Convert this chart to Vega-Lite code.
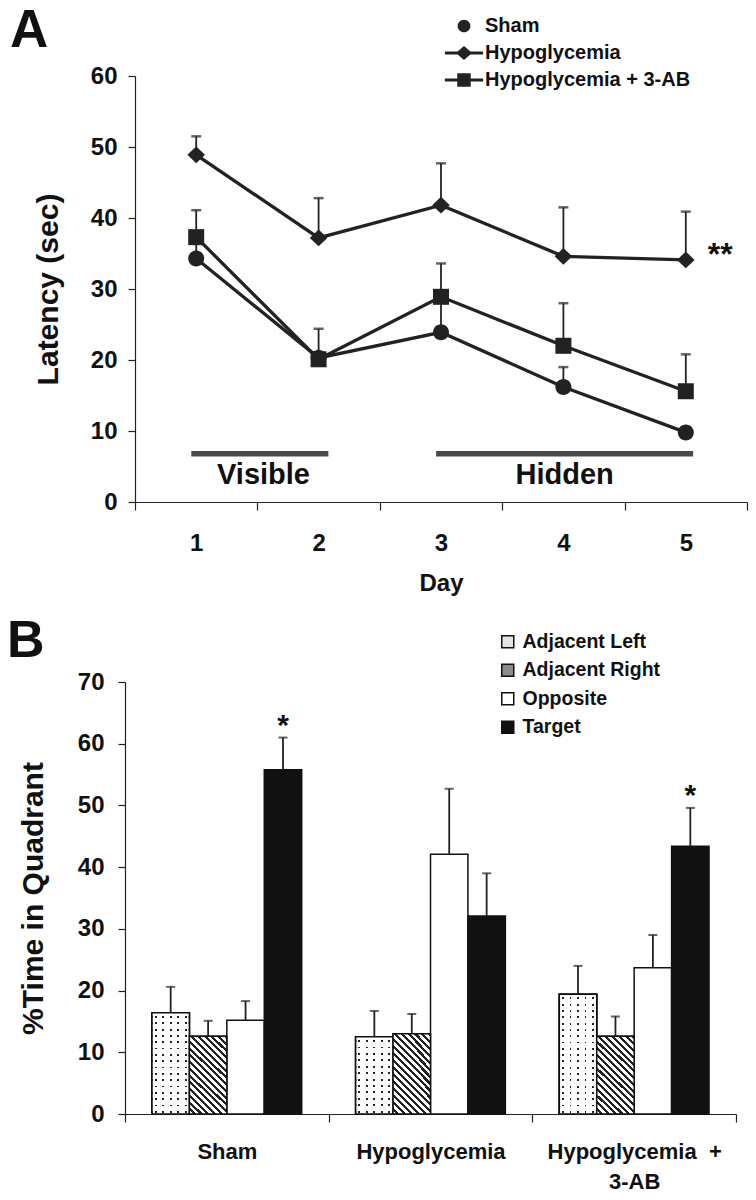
{
  "$schema": "https://vega.github.io/schema/vega-lite/v6.json",
  "autosize": {"type": "pad"},
  "padding": {"left": 7, "top": 5, "right": 0, "bottom": 0},
  "background": "white",
  "config": {
    "font": "Liberation Sans",
    "view": {"stroke": null},
    "axis": {
      "grid": false,
      "labelFont": "Liberation Sans",
      "labelFontWeight": "bold",
      "labelFontSize": 24,
      "labelColor": "#111",
      "titleFont": "Liberation Sans",
      "titleFontWeight": "bold",
      "titleColor": "#111",
      "domainColor": "#222",
      "tickColor": "#222",
      "domainWidth": 1.2,
      "tickWidth": 1.2
    },
    "title": {"font": "Liberation Sans", "fontWeight": "bold", "color": "#111"}
  },
  "datasets": {
    "latency": [
      {"day": 1, "group": "Sham", "latency": 34.3, "upper": 36.5},
      {"day": 2, "group": "Sham", "latency": 20.3, "upper": 21.0},
      {"day": 3, "group": "Sham", "latency": 23.9, "upper": 28.5},
      {"day": 4, "group": "Sham", "latency": 16.2, "upper": 19.0},
      {"day": 5, "group": "Sham", "latency": 9.8, "upper": 10.5},
      {"day": 1, "group": "Hypoglycemia", "latency": 48.9, "upper": 51.5},
      {"day": 2, "group": "Hypoglycemia", "latency": 37.2, "upper": 42.8},
      {"day": 3, "group": "Hypoglycemia", "latency": 41.8, "upper": 47.7},
      {"day": 4, "group": "Hypoglycemia", "latency": 34.6, "upper": 41.5},
      {"day": 5, "group": "Hypoglycemia", "latency": 34.1, "upper": 40.9, "note": "**"},
      {"day": 1, "group": "Hypoglycemia + 3-AB", "latency": 37.3, "upper": 41.1},
      {"day": 2, "group": "Hypoglycemia + 3-AB", "latency": 20.1, "upper": 24.4},
      {"day": 3, "group": "Hypoglycemia + 3-AB", "latency": 28.9, "upper": 33.6},
      {"day": 4, "group": "Hypoglycemia + 3-AB", "latency": 22.0, "upper": 28.0},
      {"day": 5, "group": "Hypoglycemia + 3-AB", "latency": 15.6, "upper": 20.8}
    ],
    "phases": [
      {"phase": "Visible", "start": 0.96, "end": 2.08, "mid": 1.55},
      {"phase": "Hidden", "start": 2.96, "end": 5.06, "mid": 4.01}
    ],
    "quadrant": [
      {"group": "Sham", "quadrant": "Adjacent Left", "pct": 16.4, "upper": 20.6},
      {"group": "Sham", "quadrant": "Adjacent Right", "pct": 12.6, "upper": 15.1},
      {"group": "Sham", "quadrant": "Opposite", "pct": 15.2, "upper": 18.3},
      {"group": "Sham", "quadrant": "Target", "pct": 55.8, "upper": 61.0, "sig": "*"},
      {"group": "Hypoglycemia", "quadrant": "Adjacent Left", "pct": 12.5, "upper": 16.7},
      {"group": "Hypoglycemia", "quadrant": "Adjacent Right", "pct": 13.0, "upper": 16.2},
      {"group": "Hypoglycemia", "quadrant": "Opposite", "pct": 42.1, "upper": 52.7},
      {"group": "Hypoglycemia", "quadrant": "Target", "pct": 32.1, "upper": 39.0},
      {"group": "Hypoglycemia + 3-AB", "quadrant": "Adjacent Left", "pct": 19.4, "upper": 24.0},
      {"group": "Hypoglycemia + 3-AB", "quadrant": "Adjacent Right", "pct": 12.6, "upper": 15.8},
      {"group": "Hypoglycemia + 3-AB", "quadrant": "Opposite", "pct": 23.7, "upper": 29.0},
      {"group": "Hypoglycemia + 3-AB", "quadrant": "Target", "pct": 43.4, "upper": 49.6, "sig": "*"}
    ]
  },
  "spacing": 180,
  "bounds": "flush",
  "resolve": {"legend": {"fill": "independent", "shape": "independent"}, "scale": {"fill": "independent", "shape": "independent"}},
  "vconcat": [
    {
      "width": 622,
      "height": 426,
      "title": {"text": "A", "anchor": "start", "frame": "group", "dx": -115, "dy": 84, "fontSize": 53, "baseline": "alphabetic", "offset": 0},
      "data": {"name": "latency"},
      "resolve": {"scale": {"shape": "independent"}, "legend": {"shape": "independent"}},
      "layer": [
        {
          "data": {"name": "phases"},
          "mark": {"type": "rule", "stroke": "#4a4a4a", "strokeWidth": 5.5},
          "encoding": {
            "x": {"field": "start", "type": "quantitative", "scale": {"domain": [0.5, 5.5], "range": [10, 622], "nice": false, "zero": false},
              "axis": {"values": [0.5, 1.5, 2.5, 3.5, 4.5, 5.5], "labelExpr": "datum.value < 5 ? format(datum.value + 0.5, 'd') : ''", "labelOffset": 61.2, "labelFlush": false, "labelOverlap": false, "tickSize": 8, "labelPadding": 21, "title": "Day", "titleFontSize": 24, "titlePadding": 16}},
            "x2": {"field": "end"},
            "y": {"datum": 6.8, "type": "quantitative", "scale": {"domain": [0, 60], "nice": false},
              "axis": {"values": [0, 10, 20, 30, 40, 50, 60], "title": "Latency (sec)", "titleFontSize": 30, "titlePadding": 27, "tickSize": 7, "labelPadding": 11, "offset": -10}}
          }
        },
        {
          "data": {"name": "phases"},
          "mark": {"type": "text", "fontSize": 29, "fontWeight": "bold", "baseline": "alphabetic", "color": "#111"},
          "encoding": {
            "x": {"field": "mid", "type": "quantitative"},
            "y": {"datum": 2.55, "type": "quantitative"},
            "text": {"field": "phase"}
          }
        },
        {
          "mark": {"type": "line", "stroke": "#222", "strokeWidth": 3.3},
          "encoding": {
            "x": {"field": "day", "type": "quantitative"},
            "y": {"field": "latency", "type": "quantitative"},
            "detail": {"field": "group"}
          }
        },
        {
          "mark": {"type": "rule", "stroke": "#222", "strokeWidth": 1.8},
          "encoding": {
            "x": {"field": "day", "type": "quantitative"},
            "y": {"field": "latency", "type": "quantitative"},
            "y2": {"field": "upper"}
          }
        },
        {
          "mark": {"type": "tick", "orient": "horizontal", "color": "#222", "size": 10, "thickness": 2.5},
          "encoding": {
            "x": {"field": "day", "type": "quantitative"},
            "y": {"field": "upper", "type": "quantitative"}
          }
        },
        {
          "mark": {"type": "point", "filled": true, "fill": "#222", "opacity": 1, "size": 256, "strokeWidth": 0},
          "encoding": {
            "x": {"field": "day", "type": "quantitative"},
            "y": {"field": "latency", "type": "quantitative"},
            "shape": {"field": "group", "type": "nominal",
              "scale": {"domain": ["Sham", "Hypoglycemia", "Hypoglycemia + 3-AB"],
                "range": ["M-1,0A1,1,0,1,0,1,0A1,1,0,1,0,-1,0Z", "M0,-1.05L1.1,0L0,1.05L-1.1,0Z", "M-1,-1H1V1H-1Z"]},
              "legend": null}
          }
        },
        {
          "mark": {"type": "point", "filled": true, "color": "#222", "opacity": 0, "size": 200},
          "encoding": {
            "x": {"field": "day", "type": "quantitative"},
            "y": {"field": "latency", "type": "quantitative"},
            "shape": {"field": "group", "type": "nominal",
              "scale": {"domain": ["Sham", "Hypoglycemia", "Hypoglycemia + 3-AB"],
                "range": ["M-0.9,0A0.9,0.9,0,1,0,0.9,0A0.9,0.9,0,1,0,-0.9,0Z", "M0,-1L1.15,0L0,1L-1.15,0Z M-2.7,-0.21H2.7V0.21H-2.7Z", "M-0.95,-0.95H0.95V0.95H-0.95Z M-2.7,-0.21H2.7V0.21H-2.7Z"]},
              "legend": {"title": null, "orient": "none", "legendX": 329, "legendY": -60, "padding": 0, "symbolSize": 200, "symbolFillColor": "#222", "symbolStrokeColor": "#222", "symbolStrokeWidth": 0, "symbolOpacity": 1, "labelFontSize": 20, "labelFont": "Liberation Sans", "labelFontWeight": "bold", "labelColor": "#111", "labelOffset": 11, "labelLimit": 400, "rowPadding": 7}}
          }
        },
        {
          "transform": [{"filter": "datum.note"}],
          "mark": {"type": "text", "align": "left", "dx": 22, "dy": 5, "fontSize": 32, "fontWeight": "bold", "baseline": "alphabetic", "color": "#111"},
          "encoding": {
            "x": {"field": "day", "type": "quantitative"},
            "y": {"field": "latency", "type": "quantitative"},
            "text": {"field": "note"}
          }
        }
      ]
    },
    {
      "width": 611,
      "height": 432,
      "title": {"text": "B", "anchor": "start", "frame": "group", "dx": -118, "dy": 77, "fontSize": 52, "baseline": "alphabetic", "offset": 0},
      "data": {"name": "quadrant"},
      "layer": [
        {
          "mark": {"type": "bar", "stroke": "#111", "strokeWidth": 1.5},
          "encoding": {
            "x": {"field": "group", "type": "nominal", "scale": {"domain": ["Sham", "Hypoglycemia", "Hypoglycemia + 3-AB"], "paddingInner": 0, "paddingOuter": 0},
              "axis": {"tickBand": "extent", "labelAngle": 0, "labelExpr": "datum.value === 'Hypoglycemia + 3-AB' ? ['Hypoglycemia\u00a0\u00a0+', '3-AB'] : datum.value", "labelFontSize": 22, "labelLineHeight": 30, "labelBaseline": "top", "tickSize": 8, "labelPadding": 19, "title": null}},
            "xOffset": {"field": "quadrant", "type": "nominal", "scale": {"domain": ["Adjacent Left", "Adjacent Right", "Opposite", "Target"], "paddingInner": 0, "paddingOuter": 0.72}},
            "y": {"field": "pct", "type": "quantitative", "scale": {"domain": [0, 70], "nice": false},
              "axis": {"values": [0, 10, 20, 30, 40, 50, 60, 70], "title": "%Time in Quadrant", "titleFontSize": 30, "titlePadding": 29, "tickSize": 7, "labelPadding": 14}},
            "fill": {"field": "quadrant", "type": "nominal",
              "scale": {"domain": ["Adjacent Left", "Adjacent Right", "Opposite", "Target"], "range": ["#e4e4e4", "#8c8c8c", "#ffffff", "#111111"]},
              "legend": {"title": null, "orient": "none", "legendX": 373, "legendY": -50, "padding": 0, "symbolType": "square", "symbolSize": 144, "symbolStrokeColor": "#111", "symbolStrokeWidth": 1.5, "symbolOpacity": 1, "labelFontSize": 19.5, "labelFont": "Liberation Sans", "labelFontWeight": "bold", "labelColor": "#111", "labelOffset": 5, "labelLimit": 400, "rowPadding": 7.5}}
          }
        },
        {
          "transform": [{"filter": "datum.quadrant === 'Adjacent Left'"}],
          "mark": {"type": "bar", "stroke": "#111", "strokeWidth": 1.5,
            "fill": {"gradient": "linear", "x1": 0, "y1": 0, "x2": 1, "y2": 0, "stops": [
              {"offset": 0, "color": "#fff"}, {"offset": 0.075, "color": "#fff"}, {"offset": 0.075, "color": "#222"}, {"offset": 0.125, "color": "#222"},
              {"offset": 0.125, "color": "#fff"}, {"offset": 0.275, "color": "#fff"}, {"offset": 0.275, "color": "#222"}, {"offset": 0.325, "color": "#222"},
              {"offset": 0.325, "color": "#fff"}, {"offset": 0.475, "color": "#fff"}, {"offset": 0.475, "color": "#222"}, {"offset": 0.525, "color": "#222"},
              {"offset": 0.525, "color": "#fff"}, {"offset": 0.675, "color": "#fff"}, {"offset": 0.675, "color": "#222"}, {"offset": 0.725, "color": "#222"},
              {"offset": 0.725, "color": "#fff"}, {"offset": 0.875, "color": "#fff"}, {"offset": 0.875, "color": "#222"}, {"offset": 0.925, "color": "#222"},
              {"offset": 0.925, "color": "#fff"}, {"offset": 1, "color": "#fff"}]}},
          "encoding": {
            "x": {"field": "group", "type": "nominal"},
            "xOffset": {"field": "quadrant", "type": "nominal"},
            "y": {"field": "pct", "type": "quantitative"}
          }
        },
        {
          "transform": [{"filter": "datum.quadrant === 'Adjacent Left' && datum.group === 'Sham'"}],
          "mark": {"type": "bar", "stroke": "#111", "strokeWidth": 1.5,
            "fill": {"gradient": "linear", "x1": 0, "y1": 0, "x2": 0, "y2": 1, "stops": [
              {"offset": 0.0313, "color": "#fff"}, {"offset": 0.0313, "color": "rgba(255,255,255,0)"}, {"offset": 0.05, "color": "rgba(255,255,255,0)"}, {"offset": 0.05, "color": "#fff"},
              {"offset": 0.0938, "color": "#fff"}, {"offset": 0.0938, "color": "rgba(255,255,255,0)"}, {"offset": 0.1125, "color": "rgba(255,255,255,0)"}, {"offset": 0.1125, "color": "#fff"},
              {"offset": 0.1563, "color": "#fff"}, {"offset": 0.1563, "color": "rgba(255,255,255,0)"}, {"offset": 0.175, "color": "rgba(255,255,255,0)"}, {"offset": 0.175, "color": "#fff"},
              {"offset": 0.2188, "color": "#fff"}, {"offset": 0.2188, "color": "rgba(255,255,255,0)"}, {"offset": 0.2375, "color": "rgba(255,255,255,0)"}, {"offset": 0.2375, "color": "#fff"},
              {"offset": 0.2813, "color": "#fff"}, {"offset": 0.2813, "color": "rgba(255,255,255,0)"}, {"offset": 0.3, "color": "rgba(255,255,255,0)"}, {"offset": 0.3, "color": "#fff"},
              {"offset": 0.3438, "color": "#fff"}, {"offset": 0.3438, "color": "rgba(255,255,255,0)"}, {"offset": 0.3625, "color": "rgba(255,255,255,0)"}, {"offset": 0.3625, "color": "#fff"},
              {"offset": 0.4063, "color": "#fff"}, {"offset": 0.4063, "color": "rgba(255,255,255,0)"}, {"offset": 0.425, "color": "rgba(255,255,255,0)"}, {"offset": 0.425, "color": "#fff"},
              {"offset": 0.4688, "color": "#fff"}, {"offset": 0.4688, "color": "rgba(255,255,255,0)"}, {"offset": 0.4875, "color": "rgba(255,255,255,0)"}, {"offset": 0.4875, "color": "#fff"},
              {"offset": 0.5313, "color": "#fff"}, {"offset": 0.5313, "color": "rgba(255,255,255,0)"}, {"offset": 0.55, "color": "rgba(255,255,255,0)"}, {"offset": 0.55, "color": "#fff"},
              {"offset": 0.5938, "color": "#fff"}, {"offset": 0.5938, "color": "rgba(255,255,255,0)"}, {"offset": 0.6125, "color": "rgba(255,255,255,0)"}, {"offset": 0.6125, "color": "#fff"},
              {"offset": 0.6563, "color": "#fff"}, {"offset": 0.6563, "color": "rgba(255,255,255,0)"}, {"offset": 0.675, "color": "rgba(255,255,255,0)"}, {"offset": 0.675, "color": "#fff"},
              {"offset": 0.7188, "color": "#fff"}, {"offset": 0.7188, "color": "rgba(255,255,255,0)"}, {"offset": 0.7375, "color": "rgba(255,255,255,0)"}, {"offset": 0.7375, "color": "#fff"},
              {"offset": 0.7813, "color": "#fff"}, {"offset": 0.7813, "color": "rgba(255,255,255,0)"}, {"offset": 0.8, "color": "rgba(255,255,255,0)"}, {"offset": 0.8, "color": "#fff"},
              {"offset": 0.8438, "color": "#fff"}, {"offset": 0.8438, "color": "rgba(255,255,255,0)"}, {"offset": 0.8625, "color": "rgba(255,255,255,0)"}, {"offset": 0.8625, "color": "#fff"},
              {"offset": 0.9063, "color": "#fff"}, {"offset": 0.9063, "color": "rgba(255,255,255,0)"}, {"offset": 0.925, "color": "rgba(255,255,255,0)"}, {"offset": 0.925, "color": "#fff"},
              {"offset": 0.9688, "color": "#fff"}, {"offset": 0.9688, "color": "rgba(255,255,255,0)"}, {"offset": 0.9875, "color": "rgba(255,255,255,0)"}, {"offset": 0.9875, "color": "#fff"}]}},
          "encoding": {
            "x": {"field": "group", "type": "nominal"},
            "xOffset": {"field": "quadrant", "type": "nominal"},
            "y": {"field": "pct", "type": "quantitative"}
          }
        },
        {
          "transform": [{"filter": "datum.quadrant === 'Adjacent Left' && datum.group === 'Hypoglycemia'"}],
          "mark": {"type": "bar", "stroke": "#111", "strokeWidth": 1.5,
            "fill": {"gradient": "linear", "x1": 0, "y1": 0, "x2": 0, "y2": 1, "stops": [
              {"offset": 0.0417, "color": "#fff"}, {"offset": 0.0417, "color": "rgba(255,255,255,0)"}, {"offset": 0.0667, "color": "rgba(255,255,255,0)"}, {"offset": 0.0667, "color": "#fff"},
              {"offset": 0.125, "color": "#fff"}, {"offset": 0.125, "color": "rgba(255,255,255,0)"}, {"offset": 0.15, "color": "rgba(255,255,255,0)"}, {"offset": 0.15, "color": "#fff"},
              {"offset": 0.2083, "color": "#fff"}, {"offset": 0.2083, "color": "rgba(255,255,255,0)"}, {"offset": 0.2333, "color": "rgba(255,255,255,0)"}, {"offset": 0.2333, "color": "#fff"},
              {"offset": 0.2917, "color": "#fff"}, {"offset": 0.2917, "color": "rgba(255,255,255,0)"}, {"offset": 0.3167, "color": "rgba(255,255,255,0)"}, {"offset": 0.3167, "color": "#fff"},
              {"offset": 0.375, "color": "#fff"}, {"offset": 0.375, "color": "rgba(255,255,255,0)"}, {"offset": 0.4, "color": "rgba(255,255,255,0)"}, {"offset": 0.4, "color": "#fff"},
              {"offset": 0.4583, "color": "#fff"}, {"offset": 0.4583, "color": "rgba(255,255,255,0)"}, {"offset": 0.4833, "color": "rgba(255,255,255,0)"}, {"offset": 0.4833, "color": "#fff"},
              {"offset": 0.5417, "color": "#fff"}, {"offset": 0.5417, "color": "rgba(255,255,255,0)"}, {"offset": 0.5667, "color": "rgba(255,255,255,0)"}, {"offset": 0.5667, "color": "#fff"},
              {"offset": 0.625, "color": "#fff"}, {"offset": 0.625, "color": "rgba(255,255,255,0)"}, {"offset": 0.65, "color": "rgba(255,255,255,0)"}, {"offset": 0.65, "color": "#fff"},
              {"offset": 0.7083, "color": "#fff"}, {"offset": 0.7083, "color": "rgba(255,255,255,0)"}, {"offset": 0.7333, "color": "rgba(255,255,255,0)"}, {"offset": 0.7333, "color": "#fff"},
              {"offset": 0.7917, "color": "#fff"}, {"offset": 0.7917, "color": "rgba(255,255,255,0)"}, {"offset": 0.8167, "color": "rgba(255,255,255,0)"}, {"offset": 0.8167, "color": "#fff"},
              {"offset": 0.875, "color": "#fff"}, {"offset": 0.875, "color": "rgba(255,255,255,0)"}, {"offset": 0.9, "color": "rgba(255,255,255,0)"}, {"offset": 0.9, "color": "#fff"},
              {"offset": 0.9583, "color": "#fff"}, {"offset": 0.9583, "color": "rgba(255,255,255,0)"}, {"offset": 0.9833, "color": "rgba(255,255,255,0)"}, {"offset": 0.9833, "color": "#fff"}]}},
          "encoding": {
            "x": {"field": "group", "type": "nominal"},
            "xOffset": {"field": "quadrant", "type": "nominal"},
            "y": {"field": "pct", "type": "quantitative"}
          }
        },
        {
          "transform": [{"filter": "datum.quadrant === 'Adjacent Left' && datum.group === 'Hypoglycemia + 3-AB'"}],
          "mark": {"type": "bar", "stroke": "#111", "strokeWidth": 1.5,
            "fill": {"gradient": "linear", "x1": 0, "y1": 0, "x2": 0, "y2": 1, "stops": [
              {"offset": 0.0263, "color": "#fff"}, {"offset": 0.0263, "color": "rgba(255,255,255,0)"}, {"offset": 0.0421, "color": "rgba(255,255,255,0)"}, {"offset": 0.0421, "color": "#fff"},
              {"offset": 0.0789, "color": "#fff"}, {"offset": 0.0789, "color": "rgba(255,255,255,0)"}, {"offset": 0.0947, "color": "rgba(255,255,255,0)"}, {"offset": 0.0947, "color": "#fff"},
              {"offset": 0.1316, "color": "#fff"}, {"offset": 0.1316, "color": "rgba(255,255,255,0)"}, {"offset": 0.1474, "color": "rgba(255,255,255,0)"}, {"offset": 0.1474, "color": "#fff"},
              {"offset": 0.1842, "color": "#fff"}, {"offset": 0.1842, "color": "rgba(255,255,255,0)"}, {"offset": 0.2, "color": "rgba(255,255,255,0)"}, {"offset": 0.2, "color": "#fff"},
              {"offset": 0.2368, "color": "#fff"}, {"offset": 0.2368, "color": "rgba(255,255,255,0)"}, {"offset": 0.2526, "color": "rgba(255,255,255,0)"}, {"offset": 0.2526, "color": "#fff"},
              {"offset": 0.2895, "color": "#fff"}, {"offset": 0.2895, "color": "rgba(255,255,255,0)"}, {"offset": 0.3053, "color": "rgba(255,255,255,0)"}, {"offset": 0.3053, "color": "#fff"},
              {"offset": 0.3421, "color": "#fff"}, {"offset": 0.3421, "color": "rgba(255,255,255,0)"}, {"offset": 0.3579, "color": "rgba(255,255,255,0)"}, {"offset": 0.3579, "color": "#fff"},
              {"offset": 0.3947, "color": "#fff"}, {"offset": 0.3947, "color": "rgba(255,255,255,0)"}, {"offset": 0.4105, "color": "rgba(255,255,255,0)"}, {"offset": 0.4105, "color": "#fff"},
              {"offset": 0.4474, "color": "#fff"}, {"offset": 0.4474, "color": "rgba(255,255,255,0)"}, {"offset": 0.4632, "color": "rgba(255,255,255,0)"}, {"offset": 0.4632, "color": "#fff"},
              {"offset": 0.5, "color": "#fff"}, {"offset": 0.5, "color": "rgba(255,255,255,0)"}, {"offset": 0.5158, "color": "rgba(255,255,255,0)"}, {"offset": 0.5158, "color": "#fff"},
              {"offset": 0.5526, "color": "#fff"}, {"offset": 0.5526, "color": "rgba(255,255,255,0)"}, {"offset": 0.5684, "color": "rgba(255,255,255,0)"}, {"offset": 0.5684, "color": "#fff"},
              {"offset": 0.6053, "color": "#fff"}, {"offset": 0.6053, "color": "rgba(255,255,255,0)"}, {"offset": 0.6211, "color": "rgba(255,255,255,0)"}, {"offset": 0.6211, "color": "#fff"},
              {"offset": 0.6579, "color": "#fff"}, {"offset": 0.6579, "color": "rgba(255,255,255,0)"}, {"offset": 0.6737, "color": "rgba(255,255,255,0)"}, {"offset": 0.6737, "color": "#fff"},
              {"offset": 0.7105, "color": "#fff"}, {"offset": 0.7105, "color": "rgba(255,255,255,0)"}, {"offset": 0.7263, "color": "rgba(255,255,255,0)"}, {"offset": 0.7263, "color": "#fff"},
              {"offset": 0.7632, "color": "#fff"}, {"offset": 0.7632, "color": "rgba(255,255,255,0)"}, {"offset": 0.7789, "color": "rgba(255,255,255,0)"}, {"offset": 0.7789, "color": "#fff"},
              {"offset": 0.8158, "color": "#fff"}, {"offset": 0.8158, "color": "rgba(255,255,255,0)"}, {"offset": 0.8316, "color": "rgba(255,255,255,0)"}, {"offset": 0.8316, "color": "#fff"},
              {"offset": 0.8684, "color": "#fff"}, {"offset": 0.8684, "color": "rgba(255,255,255,0)"}, {"offset": 0.8842, "color": "rgba(255,255,255,0)"}, {"offset": 0.8842, "color": "#fff"},
              {"offset": 0.9211, "color": "#fff"}, {"offset": 0.9211, "color": "rgba(255,255,255,0)"}, {"offset": 0.9368, "color": "rgba(255,255,255,0)"}, {"offset": 0.9368, "color": "#fff"},
              {"offset": 0.9737, "color": "#fff"}, {"offset": 0.9737, "color": "rgba(255,255,255,0)"}, {"offset": 0.9895, "color": "rgba(255,255,255,0)"}, {"offset": 0.9895, "color": "#fff"}]}},
          "encoding": {
            "x": {"field": "group", "type": "nominal"},
            "xOffset": {"field": "quadrant", "type": "nominal"},
            "y": {"field": "pct", "type": "quantitative"}
          }
        },
        {
          "transform": [{"filter": "datum.quadrant === 'Adjacent Right'"}],
          "mark": {"type": "bar", "stroke": "#111", "strokeWidth": 1.5,
            "fill": {"gradient": "linear", "x1": 0, "y1": 1, "x2": 0.5717, "y2": -0.2035, "stops": [
              {"offset": 0, "color": "#fff"}, {"offset": 0.0324, "color": "#fff"}, {"offset": 0.0324, "color": "#222"}, {"offset": 0.0588, "color": "#222"},
              {"offset": 0.0588, "color": "#fff"}, {"offset": 0.0912, "color": "#fff"}, {"offset": 0.0912, "color": "#222"}, {"offset": 0.1176, "color": "#222"},
              {"offset": 0.1176, "color": "#fff"}, {"offset": 0.15, "color": "#fff"}, {"offset": 0.15, "color": "#222"}, {"offset": 0.1765, "color": "#222"},
              {"offset": 0.1765, "color": "#fff"}, {"offset": 0.2088, "color": "#fff"}, {"offset": 0.2088, "color": "#222"}, {"offset": 0.2353, "color": "#222"},
              {"offset": 0.2353, "color": "#fff"}, {"offset": 0.2676, "color": "#fff"}, {"offset": 0.2676, "color": "#222"}, {"offset": 0.2941, "color": "#222"},
              {"offset": 0.2941, "color": "#fff"}, {"offset": 0.3265, "color": "#fff"}, {"offset": 0.3265, "color": "#222"}, {"offset": 0.3529, "color": "#222"},
              {"offset": 0.3529, "color": "#fff"}, {"offset": 0.3853, "color": "#fff"}, {"offset": 0.3853, "color": "#222"}, {"offset": 0.4118, "color": "#222"},
              {"offset": 0.4118, "color": "#fff"}, {"offset": 0.4441, "color": "#fff"}, {"offset": 0.4441, "color": "#222"}, {"offset": 0.4706, "color": "#222"},
              {"offset": 0.4706, "color": "#fff"}, {"offset": 0.5029, "color": "#fff"}, {"offset": 0.5029, "color": "#222"}, {"offset": 0.5294, "color": "#222"},
              {"offset": 0.5294, "color": "#fff"}, {"offset": 0.5618, "color": "#fff"}, {"offset": 0.5618, "color": "#222"}, {"offset": 0.5882, "color": "#222"},
              {"offset": 0.5882, "color": "#fff"}, {"offset": 0.6206, "color": "#fff"}, {"offset": 0.6206, "color": "#222"}, {"offset": 0.6471, "color": "#222"},
              {"offset": 0.6471, "color": "#fff"}, {"offset": 0.6794, "color": "#fff"}, {"offset": 0.6794, "color": "#222"}, {"offset": 0.7059, "color": "#222"},
              {"offset": 0.7059, "color": "#fff"}, {"offset": 0.7382, "color": "#fff"}, {"offset": 0.7382, "color": "#222"}, {"offset": 0.7647, "color": "#222"},
              {"offset": 0.7647, "color": "#fff"}, {"offset": 0.7971, "color": "#fff"}, {"offset": 0.7971, "color": "#222"}, {"offset": 0.8235, "color": "#222"},
              {"offset": 0.8235, "color": "#fff"}, {"offset": 0.8559, "color": "#fff"}, {"offset": 0.8559, "color": "#222"}, {"offset": 0.8824, "color": "#222"},
              {"offset": 0.8824, "color": "#fff"}, {"offset": 0.9147, "color": "#fff"}, {"offset": 0.9147, "color": "#222"}, {"offset": 0.9412, "color": "#222"},
              {"offset": 0.9412, "color": "#fff"}, {"offset": 0.9735, "color": "#fff"}, {"offset": 0.9735, "color": "#222"}, {"offset": 1, "color": "#222"}]}},
          "encoding": {
            "x": {"field": "group", "type": "nominal"},
            "xOffset": {"field": "quadrant", "type": "nominal"},
            "y": {"field": "pct", "type": "quantitative"}
          }
        },
        {
          "mark": {"type": "rule", "stroke": "#222", "strokeWidth": 1.8},
          "encoding": {
            "x": {"field": "group", "type": "nominal"},
            "xOffset": {"field": "quadrant", "type": "nominal"},
            "y": {"field": "pct", "type": "quantitative"},
            "y2": {"field": "upper"}
          }
        },
        {
          "mark": {"type": "tick", "orient": "horizontal", "color": "#222", "size": 9, "thickness": 2},
          "encoding": {
            "x": {"field": "group", "type": "nominal"},
            "xOffset": {"field": "quadrant", "type": "nominal"},
            "y": {"field": "upper", "type": "quantitative"}
          }
        },
        {
          "transform": [{"filter": "datum.sig"}],
          "mark": {"type": "text", "fontSize": 30, "fontWeight": "bold", "baseline": "alphabetic", "dy": -3, "color": "#111"},
          "encoding": {
            "x": {"field": "group", "type": "nominal"},
            "xOffset": {"field": "quadrant", "type": "nominal"},
            "y": {"field": "upper", "type": "quantitative"},
            "text": {"field": "sig"}
          }
        }
      ]
    }
  ]
}
